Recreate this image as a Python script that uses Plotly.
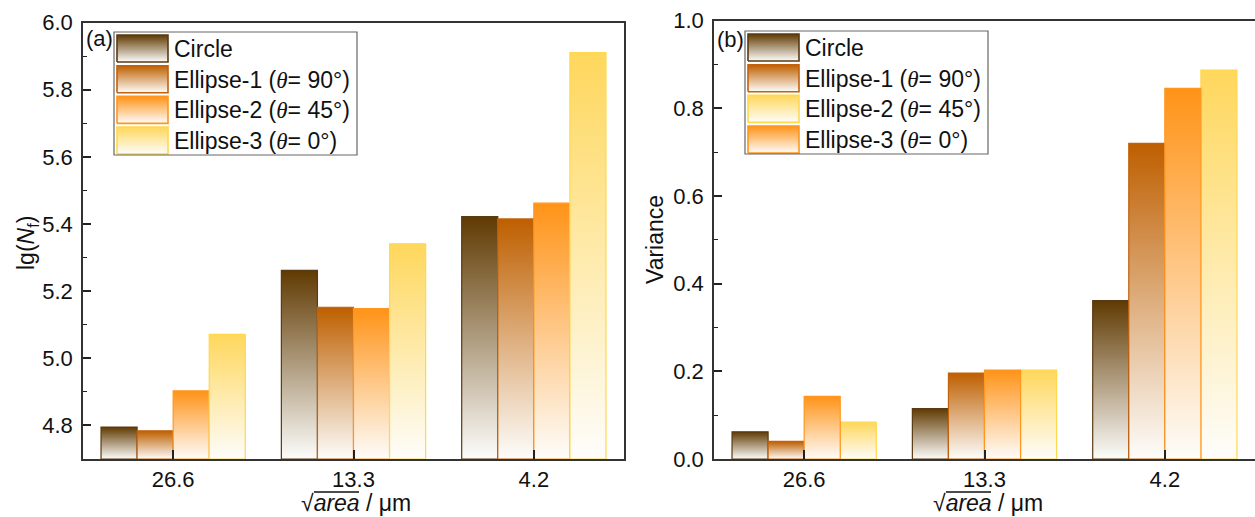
import plotly.graph_objects as go

W, H = 1255, 517

# ---------------- data ----------------
categories = ["26.6", "13.3", "4.2"]
series_names = ["Circle", "Ellipse-1", "Ellipse-2", "Ellipse-3"]
theta_labels = ["", "90°", "45°", "0°"]

lg_circle = [4.795, 5.262, 5.422]
lg_ellipse1 = [4.784, 5.152, 5.415]
lg_ellipse2 = [4.903, 5.148, 5.462]
lg_ellipse3 = [5.071, 5.341, 5.910]

var_circle = [0.062, 0.115, 0.361]
var_ellipse1 = [0.040, 0.196, 0.720]
var_ellipse2 = [0.084, 0.203, 0.887]
var_ellipse3 = [0.143, 0.203, 0.845]

# ---------------- styles ----------------
BROWN, RUST, ORANGE, YELLOW = "#603A02", "#BE5F00", "#FF9317", "#FFD75C"
EDGE = {BROWN: "#5A3A12", RUST: "#C2620C", ORANGE: "#FF961F", YELLOW: "#FFD84E"}
BOTTOM = "#FDFDFB"
FONT = "Liberation Sans, Arial, sans-serif"
AXC = "#333333"
TXT = "#111111"
TICK_SIZE = 22
LEG_SIZE = 23
TITLE_SIZE = 23
BW = 0.2  # bar width in category units

# panel a: (name index, values, colour, slot)
panel_a = [(0, lg_circle, BROWN, 0), (1, lg_ellipse1, RUST, 1),
           (2, lg_ellipse2, ORANGE, 2), (3, lg_ellipse3, YELLOW, 3)]
# panel b: colours / slots as in the original figure
panel_b = [(0, var_circle, BROWN, 0), (1, var_ellipse1, RUST, 1),
           (2, var_ellipse2, YELLOW, 3), (3, var_ellipse3, ORANGE, 2)]

fig = go.Figure()


def add_bars(panel, base, xa, ya):
    for idx, vals, col, slot in panel:
        for i, v in enumerate(vals):
            cx = i + (slot - 1.5) * BW
            x0, x1 = cx - BW / 2, cx + BW / 2
            fig.add_trace(go.Scatter(
                x=[x0, x1, x1, x0, x0], y=[base, base, v, v, base],
                mode="lines", fill="toself",
                fillgradient=dict(type="vertical",
                                  colorscale=[[0, BOTTOM], [1, col]]),
                line=dict(color=EDGE[col], width=1.2),
                xaxis=xa, yaxis=ya, showlegend=False,
                name=series_names[idx], text=f"{categories[i]}: {v}",
                hoverinfo="name+text"))


add_bars(panel_a, 4.7, "x", "y")
add_bars(panel_b, 0.0, "x2", "y2")


def label(idx):
    if theta_labels[idx]:
        return (f"{series_names[idx]} (<span style='font-family:Liberation Serif'>"
                f"<i>θ</i></span>= {theta_labels[idx]})")
    return series_names[idx]


# ---------------- custom legends (pixel coords on overlay axis) ----------------
annotations = []
shapes = []


def add_legend(bx, by, panel):
    order = sorted(panel, key=lambda p: p[0])
    shapes.append(dict(type="rect", xref="x3", yref="y3", x0=bx, x1=bx + 243,
                       y0=by, y1=by + 123, line=dict(color="#666666", width=1.2),
                       fillcolor="rgba(0,0,0,0)", layer="above"))
    for k, (idx, vals, col, slot) in enumerate(order):
        top = by + 3 + k * 30.7
        sx0, sx1 = bx + 3, bx + 54
        fig.add_trace(go.Scatter(
            x=[sx0, sx1, sx1, sx0, sx0], y=[top + 27, top + 27, top, top, top + 27],
            mode="lines", fill="toself",
            fillgradient=dict(type="vertical", colorscale=[[0, BOTTOM], [1, col]]),
            line=dict(color=EDGE[col], width=1.6),
            xaxis="x3", yaxis="y3", showlegend=False, hoverinfo="skip"))
        annotations.append(dict(xref="x3", yref="y3", x=bx + 58, y=top + 14,
                                xanchor="left", yanchor="middle", showarrow=False,
                                text=label(idx), font=dict(size=LEG_SIZE, color=TXT)))


add_legend(114, 32, panel_a)
add_legend(745, 31, panel_b)

# panel letters
annotations.append(dict(xref="x3", yref="y3", x=84, y=38, xanchor="left", yanchor="middle",
                        showarrow=False, text="(a)", font=dict(size=22, color=TXT)))
annotations.append(dict(xref="x3", yref="y3", x=715, y=39, xanchor="left", yanchor="middle",
                        showarrow=False, text="(b)", font=dict(size=22, color=TXT)))

# axis titles (the radical's bar over "area" is drawn as a thin line)
xtitle = "√<i>area</i> / μm"
for cx in (356, 988):
    annotations.append(dict(xref="x3", yref="y3", x=cx, y=503, xanchor="center",
                            yanchor="middle", showarrow=False, text=xtitle,
                            font=dict(size=TITLE_SIZE, color=TXT)))
    shapes.append(dict(type="line", xref="x3", yref="y3", x0=cx - 42, x1=cx + 3,
                       y0=492, y1=492, line=dict(color=TXT, width=1.3), layer="above"))
annotations.append(dict(xref="x3", yref="y3", x=27, y=243, xanchor="center", yanchor="middle",
                        textangle=-90, showarrow=False, text="lg(<i>N</i><sub>f</sub>)",
                        font=dict(size=TITLE_SIZE, color=TXT)))
annotations.append(dict(xref="x3", yref="y3", x=655, y=240, xanchor="center", yanchor="middle",
                        textangle=-90, showarrow=False, text="Variance",
                        font=dict(size=TITLE_SIZE, color=TXT)))

common_x = dict(range=[-0.5, 2.5], tickmode="array", tickvals=[0, 1, 2], ticktext=categories,
                ticks="inside", ticklen=9, tickwidth=1.5, tickcolor="#222",
                showline=True, linecolor=AXC, linewidth=1.5, mirror=True,
                showgrid=False, zeroline=False, tickfont=dict(size=TICK_SIZE, color=TXT),
                automargin=False, fixedrange=True)
minor_y = dict(ticks="inside", ticklen=4, tickwidth=1.2, tickcolor="#222",
               showgrid=False, dtick=0.1)
common_y = dict(ticks="inside", ticklen=8, tickwidth=1.5, tickcolor="#222",
                showline=True, linecolor=AXC, linewidth=1.5,
                showgrid=False, zeroline=False, tickfont=dict(size=TICK_SIZE, color=TXT),
                dtick=0.2, tickformat=".1f", minor=minor_y, ticklabelstandoff=4,
                automargin=False, fixedrange=True)

fig.update_layout(
    width=W, height=H, margin=dict(l=0, r=0, t=0, b=0, pad=0, autoexpand=False),
    paper_bgcolor="white", plot_bgcolor="rgba(0,0,0,0)",
    font=dict(family=FONT, size=TICK_SIZE, color=TXT),
    showlegend=False,
    xaxis=dict(domain=[83 / W, 624 / W], anchor="y", **common_x),
    yaxis=dict(domain=[(H - 459) / H, (H - 22.5) / H], anchor="x", range=[4.7, 6.0],
               mirror=True, **common_y),
    xaxis2=dict(domain=[714 / W, 1.0], anchor="y2", **common_x),
    yaxis2=dict(domain=[(H - 459) / H, (H - 20.5) / H], anchor="x2", range=[0, 1.0],
                mirror=False, **common_y),
    xaxis3=dict(domain=[0, 1], range=[0, W], visible=False, anchor="y3", fixedrange=True),
    yaxis3=dict(domain=[0, 1], range=[H, 0], visible=False, anchor="x3", fixedrange=True),
    annotations=annotations, shapes=shapes,
)

fig.write_html("out.html")
